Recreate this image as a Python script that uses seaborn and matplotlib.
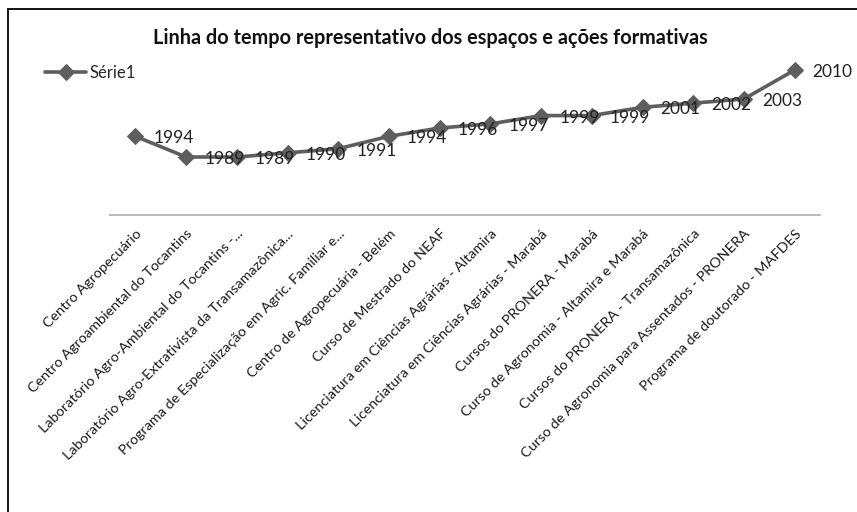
import numpy as np
import matplotlib
matplotlib.use("Agg")
import matplotlib.pyplot as plt
from matplotlib.lines import Line2D
import seaborn as sns

# --- dados ---
categorias = [
    "Centro Agropecuário",
    "Centro Agroambiental do Tocantins",
    "Laboratório Agro-Ambiental do Tocantins -...",
    "Laboratório Agro-Extrativista da Transamazônica...",
    "Programa de Especialização em Agric. Familiar e...",
    "Centro de Agropecuária - Belém",
    "Curso de Mestrado do NEAF",
    "Licenciatura em Ciências Agrárias - Altamira",
    "Licenciatura em Ciências Agrárias - Marabá",
    "Cursos do PRONERA - Marabá",
    "Curso de Agronomia - Altamira e Marabá",
    "Cursos do PRONERA - Transamazônica",
    "Curso de Agronomia para Assentados - PRONERA",
    "Programa de doutorado - MAFDES",
]
anos = [1994, 1989, 1989, 1990, 1991, 1994, 1996, 1997, 1999, 1999, 2001, 2002, 2003, 2010]
serie = "Série1"
titulo = "Linha do tempo representativo dos espaços e ações formativas"

sns.set_theme(style="white")
plt.rcParams["font.family"] = ["Lato", "DejaVu Sans"]

cor = "#5e5e5e"
fig = plt.figure(figsize=(8.57, 5.12), dpi=100)
ax = fig.add_axes([110 / 857, 1 - 215 / 512, 710 / 857, 165.7 / 512])

pos = np.arange(len(anos))
sns.lineplot(x=pos, y=anos, ax=ax, sort=False, color=cor, linewidth=2.6,
             marker="D", markersize=8, markeredgecolor=cor, label=serie)

# rótulos de dados
for x, y in zip(pos, anos):
    ax.annotate(str(y), (x, y), xytext=(13, -1.5), textcoords="offset points",
                ha="left", va="center", fontsize=12.5, color="#222222")

ax.set_xlim(-0.5, len(anos) - 0.5)
ax.set_ylim(1975, 2015)
ax.set_yticks([])
ax.set_xticks(pos)
ax.set_xticklabels(categorias, rotation=45, ha="right", rotation_mode="anchor",
                   fontsize=10.4, color="#1a1a1a")
ax.tick_params(axis="x", length=0, pad=9)
ax.set_xlabel("")
ax.set_ylabel("")
for s in ["top", "left", "right"]:
    ax.spines[s].set_visible(False)
ax.spines["bottom"].set_color("#b4b4b4")
ax.spines["bottom"].set_linewidth(1.3)
ax.patch.set_alpha(0)

fig.text(430 / 857, 1 - 38 / 512, titulo, ha="center", va="center",
         fontsize=14.3, fontweight="bold", color="#111111")

ax.legend(loc="center left", bbox_to_anchor=(38 / 857, 1 - 73 / 512),
          bbox_transform=fig.transFigure, frameon=False, fontsize=12,
          handlelength=2.5, handletextpad=0.2, borderaxespad=0)

# moldura do gráfico (só esquerda e topo ficam visíveis)
fig.add_artist(Line2D([8 / 857, 8 / 857], [0, 1 - 9 / 512], color="black", linewidth=1.3))
fig.add_artist(Line2D([8 / 857, 1], [1 - 9 / 512, 1 - 9 / 512], color="black", linewidth=1.3))

fig.savefig("out.png", dpi=100)
